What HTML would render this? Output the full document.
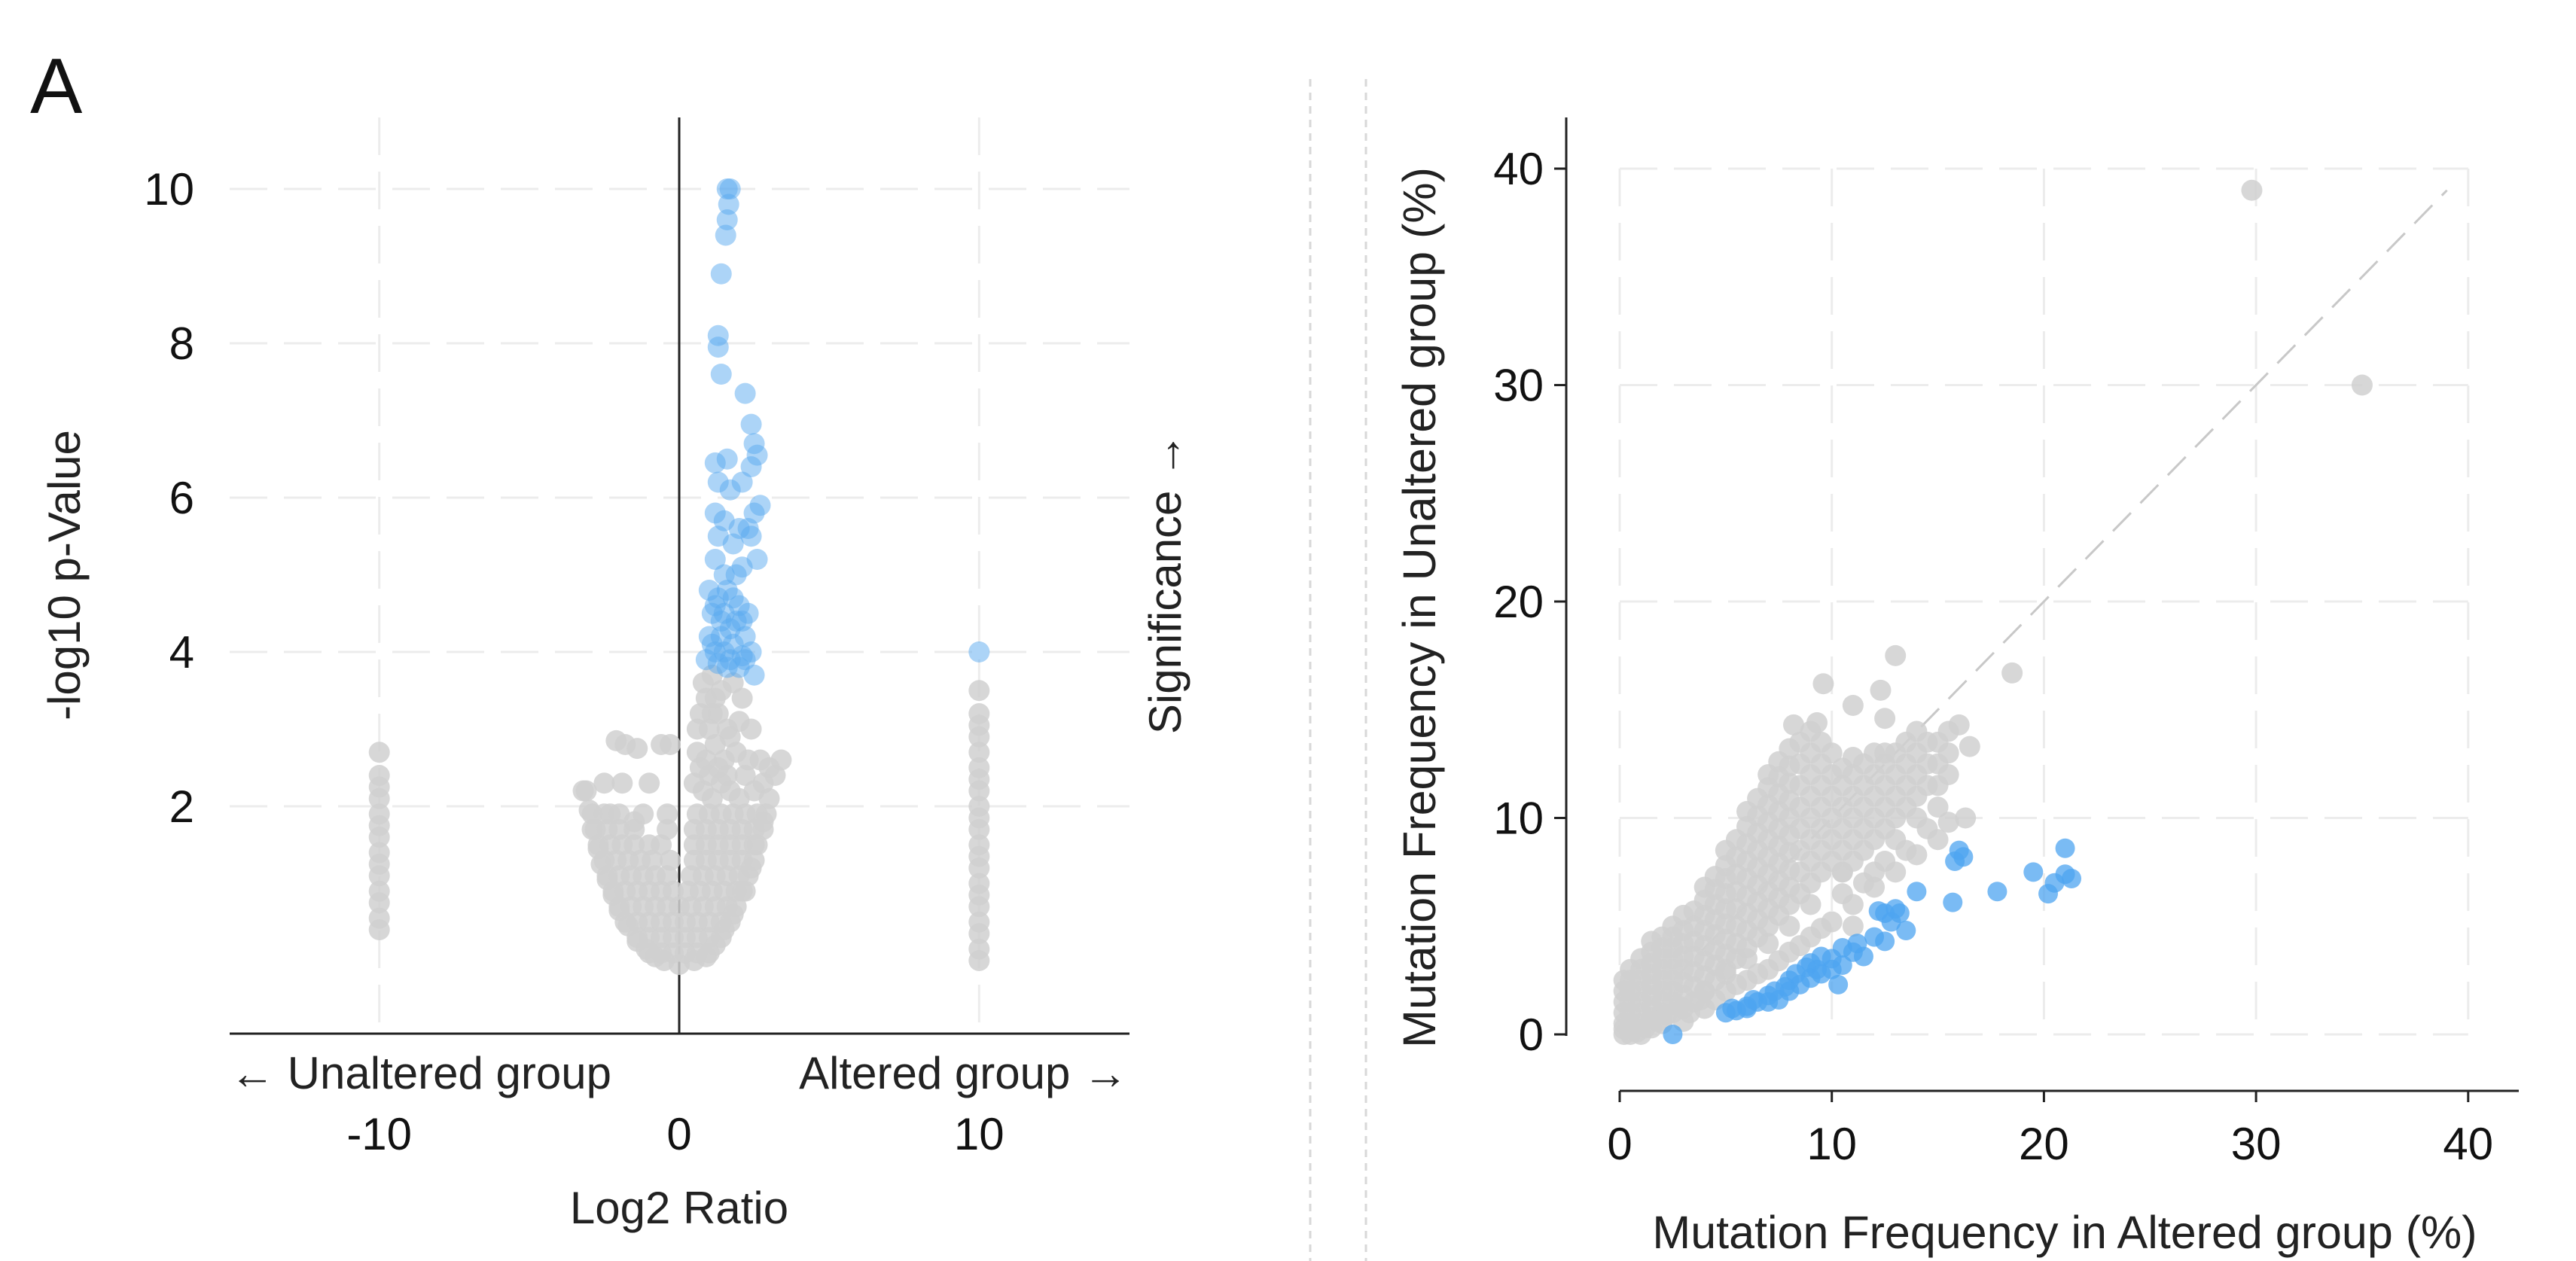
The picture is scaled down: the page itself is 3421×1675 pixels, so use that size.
<!DOCTYPE html>
<html><head><meta charset="utf-8">
<style>
html,body{margin:0;padding:0;background:#fff;}
svg{display:block;font-family:"Liberation Sans",Arial,sans-serif;}
</style></head>
<body>
<svg id="fig" width="3421" height="1675" viewBox="0 0 3421 1675" xmlns="http://www.w3.org/2000/svg">
<text x="40" y="150" font-size="104" fill="#111">A</text>
<line x1="1740" y1="105" x2="1740" y2="1675" stroke="#d8d8d8" stroke-width="3" stroke-dasharray="10,8"/>
<line x1="1814" y1="105" x2="1814" y2="1675" stroke="#d8d8d8" stroke-width="3" stroke-dasharray="10,8"/>
<g id="volcano"></g>
<g id="scatter"></g>
</svg>
<script>
// ---------- Volcano data ----------
const volXTicks = [-10, 0, 10];
const volYTicks = [2, 4, 6, 8, 10];
const volGreyLeftCol = [0.4,0.55,0.75,0.9,1.1,1.25,1.4,1.6,1.75,1.9,2.1,2.25,2.4,2.7];
const volGreyRightCol = [0,0.15,0.35,0.5,0.7,0.85,1.0,1.2,1.35,1.5,1.7,1.85,2.0,2.2,2.35,2.5,2.7,2.9,3.05,3.2,3.5];
const volGreyCloud = [
[-3.1,2.2],[-3.0,1.95],[-2.9,1.7],[-2.7,1.45],[-2.6,1.25],[-2.4,1.05],[-2.2,0.85],[-2.0,0.65],[-1.7,0.45],[-1.4,0.25],[-1.1,0.15],[-0.8,0.05],[-0.5,0],[0,-0.05],[0.5,0],[0.9,0.05],[1.2,0.2],[1.5,0.4],[1.8,0.6],[2.1,0.9],[2.4,1.2],[2.6,1.5],[2.8,1.8],[3.0,2.1],[3.2,2.4],[3.4,2.6],
[-2.1,2.85],[-1.8,2.8],[-1.4,2.75],[-0.6,2.8],[-0.3,2.8],[-2.5,2.3],[-1.9,2.3],[-1.0,2.3],[-3.2,2.2],[-2.3,1.9],[-1.5,1.8],[-0.4,1.9],[-0.6,1.5],[-0.3,1.3],
[0.8,3.6],[1.1,3.7],[1.4,3.5],[1.8,3.6],[2.1,3.4],[0.7,3.2],[1.0,3.0],[1.3,3.2],[1.6,3.0],[2.0,3.1],[2.4,3.0],[0.6,2.7],[0.9,2.6],[1.2,2.8],[1.5,2.6],[1.9,2.7],[2.3,2.6],[2.7,2.6],[3.0,2.5],[0.5,2.3],[0.8,2.2],[1.1,2.1],[1.4,2.3],[1.7,2.2],[2.0,2.1],[2.5,2.2],[2.8,2.3],
[0.6,3.0],[0.9,3.4],[1.2,3.4],[0.7,2.5],[1.0,2.4],[1.3,2.5],[1.6,2.4],[2.2,2.4],[1.7,2.9],[1.1,3.2],
[-1.0,0.1],[-0.6,0.1],[-0.2,0.1],[0.2,0.1],[0.6,0.1],[1.0,0.1],
[-1.4,0.3],[-1.0,0.3],[-0.6,0.3],[-0.2,0.3],[0.2,0.3],[0.6,0.3],[1.0,0.3],[1.4,0.3],
[-1.8,0.5],[-1.4,0.5],[-1.0,0.5],[-0.6,0.5],[-0.2,0.5],[0.2,0.5],[0.6,0.5],[1.0,0.5],[1.4,0.5],[1.7,0.5],
[-2.0,0.7],[-1.6,0.7],[-1.2,0.7],[-0.8,0.7],[-0.4,0.7],[0,0.7],[0.4,0.7],[0.8,0.7],[1.2,0.7],[1.6,0.7],[1.9,0.7],
[-2.2,0.9],[-1.8,0.9],[-1.4,0.9],[-1.0,0.9],[-0.6,0.9],[-0.2,0.9],[0.3,0.9],[0.7,0.9],[1.1,0.9],[1.5,0.9],[1.9,0.9],[2.2,0.9],
[-2.4,1.1],[-2.0,1.1],[-1.6,1.1],[-1.2,1.1],[-0.8,1.1],[-0.4,1.1],[0.4,1.1],[0.8,1.1],[1.2,1.1],[1.6,1.1],[2.0,1.1],[2.3,1.1],
[-2.5,1.3],[-2.1,1.3],[-1.7,1.3],[-1.3,1.3],[-0.9,1.3],[0.5,1.3],[0.9,1.3],[1.3,1.3],[1.7,1.3],[2.1,1.3],[2.5,1.3],
[-2.7,1.5],[-2.3,1.5],[-1.9,1.5],[-1.5,1.5],[-1.0,1.5],[0.5,1.5],[0.9,1.5],[1.3,1.5],[1.7,1.5],[2.1,1.5],[2.5,1.5],
[-2.8,1.7],[-2.4,1.7],[-2.0,1.7],[-1.5,1.7],[-0.4,1.7],[0.5,1.7],[0.9,1.7],[1.3,1.7],[1.7,1.7],[2.1,1.7],[2.5,1.7],[2.8,1.7],
[-2.9,1.9],[-2.5,1.9],[-2.0,1.9],[-1.2,1.9],[0.6,1.9],[1.0,1.9],[1.4,1.9],[1.8,1.9],[2.2,1.9],[2.6,1.9],[2.9,1.9]
];
const volBlue = [
[1.6,10],[1.7,10],[1.65,9.8],[1.6,9.6],[1.55,9.4],[1.4,8.9],[1.3,8.1],[1.3,7.95],[1.4,7.6],[2.2,7.35],[2.4,6.95],[2.5,6.7],[2.6,6.55],[1.2,6.45],[1.6,6.5],[2.4,6.4],[1.3,6.2],[1.7,6.1],[2.1,6.2],[2.7,5.9],[1.2,5.8],[1.5,5.7],[2.0,5.6],[2.4,5.5],[1.3,5.5],[1.8,5.4],[2.6,5.2],[1.2,5.2],[1.5,5.0],[2.1,5.1],[1.0,4.8],[1.3,4.7],[1.6,4.8],[2.0,4.6],[2.3,4.5],[1.1,4.5],[1.4,4.4],[1.7,4.3],[2.2,4.2],[1.0,4.2],[1.2,4.0],[1.5,4.0],[1.8,4.1],[2.1,3.95],[2.4,4.0],[0.9,3.9],[1.3,3.85],[1.6,3.8],[2.0,3.8],[2.5,3.7],[1.1,4.1],[1.9,4.4],
[1.2,4.6],[1.5,4.5],[1.8,4.7],[2.1,4.4],[1.4,4.2],[1.7,3.9],[2.2,3.9],[1.9,5.0],[2.3,5.6],[2.5,5.8],[10,4.0]
];
// ---------- Scatter data ----------
const scTicks = [0, 10, 20, 30, 40];
const scGreyCols = [
[0.2,[0,0.5,1,1.5,2,2.5]],[0.5,[0,0.5,1,1.5,2,2.5,3]],[1,[0,0.5,1,1.5,2,2.5,3,3.5]],
[1.5,[0.3,0.8,1.3,1.8,2.3,2.8,3.3,3.8,4.3]],[2,[0.5,1,1.5,2,2.5,3,3.5,4,4.5]],
[2.5,[1,1.5,2,2.5,3,3.5,4,4.5,5]],[3,[1.2,1.8,2.4,3,3.6,4.2,4.8,5.5]],
[3.5,[1.5,2.2,2.9,3.6,4.3,5,5.7]],[4,[2,2.7,3.4,4.1,4.8,5.5,6.2,6.8]],
[4.5,[2.5,3.2,3.9,4.6,5.3,6,6.7,7.3]],[5,[3,3.7,4.4,5.1,5.8,6.5,7.2,7.8,8.5]],
[5.5,[3.5,4.2,5,5.8,6.6,7.4,8.2,9]],[6,[4,4.8,5.6,6.4,7.2,8,8.8,9.6,10.3]],
[6.5,[4.5,5.3,6.1,6.9,7.7,8.5,9.3,10.1,10.9]],[7,[5,5.8,6.6,7.4,8.2,9,9.8,10.6,11.4,12]],
[7.5,[5.5,6.3,7.1,7.9,8.7,9.5,10.3,11.1,11.9,12.6]],[8,[6,6.8,7.6,8.4,9.2,10,10.8,11.6,12.4,13.2]],
[8.5,[6.5,7.5,8.5,9.5,10.5,11.5,12.5,13.5]],[9,[7,8,9,10,11,12,13,14]],
[9.5,[7.5,8.5,9.5,10.5,11.5,12.5,13.5]],[10,[8,9,10,11,12,13]],
[10.5,[7.5,8.5,9.5,10.5,11.5,12.3]],[11,[8,9,10,11,12,12.8]],[11.5,[8.5,9.5,10.5,11.5,12.5]],
[12,[9,10,11,12,13]],[12.5,[9.5,10.5,11.5,12.5,13]],[13,[10,11,12,13]],[13.5,[10.5,11.5,12.5,13.5]],
[14,[11,12,13,14]],[14.5,[11.5,12.5,13.5]],[15,[11.5,12.5,13.5]],[15.5,[12,13,14]]
];
const scGreyExtra = [
[29.8,39],[35,30],[18.5,16.7],[13,17.5],[9.6,16.2],[12.3,15.9],[12.5,14.6],[8.2,14.3],[9.3,14.4],[16,14.3],[16.5,13.3],[16.3,10],[15.5,9.8],[11,15.2],
[3,0.6],[4,1.2],[4.5,1.6],[5,2],[5.5,2.3],[6,2.5],[6.5,2.8],[7,3],[7.5,3.4],[8,3.8],[8.5,4.1],[9,4.5],[9.5,4.9],[10,5.2],[11,6],[12,6.8],[13,7.5],[14,8.3],[15,9],[11,5],[12,7.5],[13.5,8.5],[14.5,9.5],[10.5,6.5],[9,6],[8,5],[7,4.2],[6,3.5],[5,2.8],[4,2],
[0.2,0.25],[0.5,0.25],[0.8,0.1],[1.2,0.3],[1.8,0.6],[2.2,0.9],[2.8,1.3],[3.3,1.0],[3.8,1.6],[12.5,8],[13,9],[14,10],[15,10.5],[11.5,7],[10.5,7.5]
];
const scBlue = [
[2.5,0],[5,1],[5.5,1.1],[6,1.3],[6.5,1.5],[7,1.5],[7.5,1.6],[8,2],[8.5,2.3],[9,2.6],[9.5,2.8],[10,3.5],[10.5,4],[10.3,2.3],[11,3.8],[12,4.5],[12.5,5.6],[13,5.8],[14,6.6],[15.8,8],[16,8.5],[15.7,6.1],[17.8,6.6],[19.5,7.5],[20.2,6.5],[20.5,7],[21,7.4],[21,8.6],[21.3,7.2],[9,3.3],[8,2.5],[7,1.8],[6,1.2],[11.5,3.6],[12.5,4.3],[10,3],[9.5,3.6],[8.8,3.1],[7.8,2.2],[13.5,4.8],[12.8,5.2],
[5.3,1.2],[6.3,1.6],[7.3,2.0],[8.3,2.8],[9.3,3.0],[10.5,3.2],[11.2,4.2],[12.2,5.7],[13.2,5.6],[16.2,8.2]
];

const NS = "http://www.w3.org/2000/svg";
function mk(parent, tag, attrs, text){
  const el = document.createElementNS(NS, tag);
  for (const k in attrs) el.setAttribute(k, attrs[k]);
  if (text !== undefined) el.textContent = text;
  parent.appendChild(el);
  return el;
}

// ---------- Volcano ----------
(function(){
  const g = document.getElementById('volcano');
  const vx = v => 902 + v * 39.83;
  const vy = v => 1276 - v * 102.5;
  const L = 305, R = 1500, T = 156, B = 1373;
  volYTicks.forEach(t => {
    const l = mk(g,'line',{x1:L,x2:R,y1:vy(t),y2:vy(t),stroke:'#ececec','stroke-width':3,'stroke-dasharray':'50,22'});
    
    
  });
  volXTicks.forEach(t => {
    if (t === 0) return;
    const l = mk(g,'line',{x1:vx(t),x2:vx(t),y1:T,y2:B,stroke:'#ececec','stroke-width':3,'stroke-dasharray':'50,22'});
    
    
  });
  const ya = mk(g,'line',{x1:vx(0),x2:vx(0),y1:T,y2:B,stroke:'#222','stroke-width':3});
  
  
  const xa = mk(g,'line',{x1:L,x2:R,y1:B,y2:B,stroke:'#222','stroke-width':3});
  
  
  const grey = [];
  volGreyLeftCol.forEach(y => grey.push([-10,y]));
  volGreyRightCol.forEach(y => grey.push([10,y]));
  volGreyCloud.forEach(p => grey.push(p));
  grey.forEach(p => {
    const c = mk(g,'circle',{cx:vx(p[0]),cy:vy(p[1]),r:14,fill:'#d0d0d0','fill-opacity':0.85});
    
    
  });
  volBlue.forEach(p => {
    const c = mk(g,'circle',{cx:vx(p[0]),cy:vy(p[1]),r:14,fill:'#5aaaf0','fill-opacity':0.5});
    
    
  });
  volYTicks.forEach(t => {
    const tx = mk(g,'text',{x:258,y:vy(t)+21,'text-anchor':'end','font-size':60,fill:'#111'},String(t));
    
    
  });
  volXTicks.forEach(t => {
    const tx = mk(g,'text',{x:vx(t),y:1527,'text-anchor':'middle','font-size':60,fill:'#111'},String(t));
    
    
  });
  let t;
  t = mk(g,'text',{x:305,y:1446,'font-size':60,fill:'#222'},'← Unaltered group');
  
  
  t = mk(g,'text',{x:1498,y:1446,'text-anchor':'end','font-size':60,fill:'#222'},'Altered group →');
  
  
  t = mk(g,'text',{x:902,y:1625,'text-anchor':'middle','font-size':60,fill:'#222'},'Log2 Ratio');
  
  
  t = mk(g,'text',{x:0,y:0,'text-anchor':'middle','font-size':60,fill:'#222',transform:'translate(106,764) rotate(-90)'},'-log10 p-Value');
  
  
  t = mk(g,'text',{x:0,y:0,'text-anchor':'middle','font-size':60,fill:'#222',transform:'translate(1568,775) rotate(-90)'},'Significance →');
  
  
})();

// ---------- Scatter ----------
(function(){
  const g = document.getElementById('scatter');
  const sx = v => 2151 + v * 28.17;
  const sy = v => 1374 - v * 28.75;
  scTicks.forEach(t => {
    const l1 = mk(g,'line',{x1:sx(0),x2:sx(40),y1:sy(t),y2:sy(t),stroke:'#ececec','stroke-width':3,'stroke-dasharray':'50,22'});
    
    
    const l2 = mk(g,'line',{x1:sx(t),x2:sx(t),y1:sy(40),y2:sy(0),stroke:'#ececec','stroke-width':3,'stroke-dasharray':'50,22'});
    
    
  });
  const d = mk(g,'line',{x1:sx(0),y1:sy(0),x2:sx(39),y2:sy(39),stroke:'#c8c8c8','stroke-width':3,'stroke-dasharray':'34,18'});
  
  
  const ya = mk(g,'line',{x1:2080,x2:2080,y1:156,y2:1376,stroke:'#222','stroke-width':3});
  
  
  const xa = mk(g,'line',{x1:2151,x2:3345,y1:1449,y2:1449,stroke:'#222','stroke-width':3});
  
  
  scTicks.forEach(t => {
    const a = mk(g,'line',{x1:2064,x2:2080,y1:sy(t),y2:sy(t),stroke:'#222','stroke-width':3});
    
    
    const b = mk(g,'line',{x1:sx(t),x2:sx(t),y1:1449,y2:1464,stroke:'#222','stroke-width':3});
    
    
    const tl = mk(g,'text',{x:2050,y:sy(t)+21,'text-anchor':'end','font-size':60,fill:'#111'},String(t));
    
    
    const tb = mk(g,'text',{x:sx(t),y:1540,'text-anchor':'middle','font-size':60,fill:'#111'},String(t));
    
    
  });
  const grey = [];
  scGreyCols.forEach(col => col[1].forEach(y => grey.push([col[0], y])));
  scGreyExtra.forEach(p => grey.push(p));
  grey.forEach(p => {
    const c = mk(g,'circle',{cx:sx(p[0]),cy:sy(p[1]),r:14,fill:'#d0d0d0','fill-opacity':0.85});
    
    
  });
  scBlue.forEach(p => {
    const c = mk(g,'circle',{cx:sx(p[0]),cy:sy(p[1]),r:13,fill:'#4ea4f0','fill-opacity':0.75});
    
    
  });
  let t = mk(g,'text',{x:2742,y:1658,'text-anchor':'middle','font-size':61,fill:'#222'},'Mutation Frequency in Altered group (%)');
  
  
  t = mk(g,'text',{x:0,y:0,'text-anchor':'middle','font-size':61,fill:'#222',transform:'translate(1906,807) rotate(-90)'},'Mutation Frequency in Unaltered group (%)');
  
  
})();
</script>
</body></html>
